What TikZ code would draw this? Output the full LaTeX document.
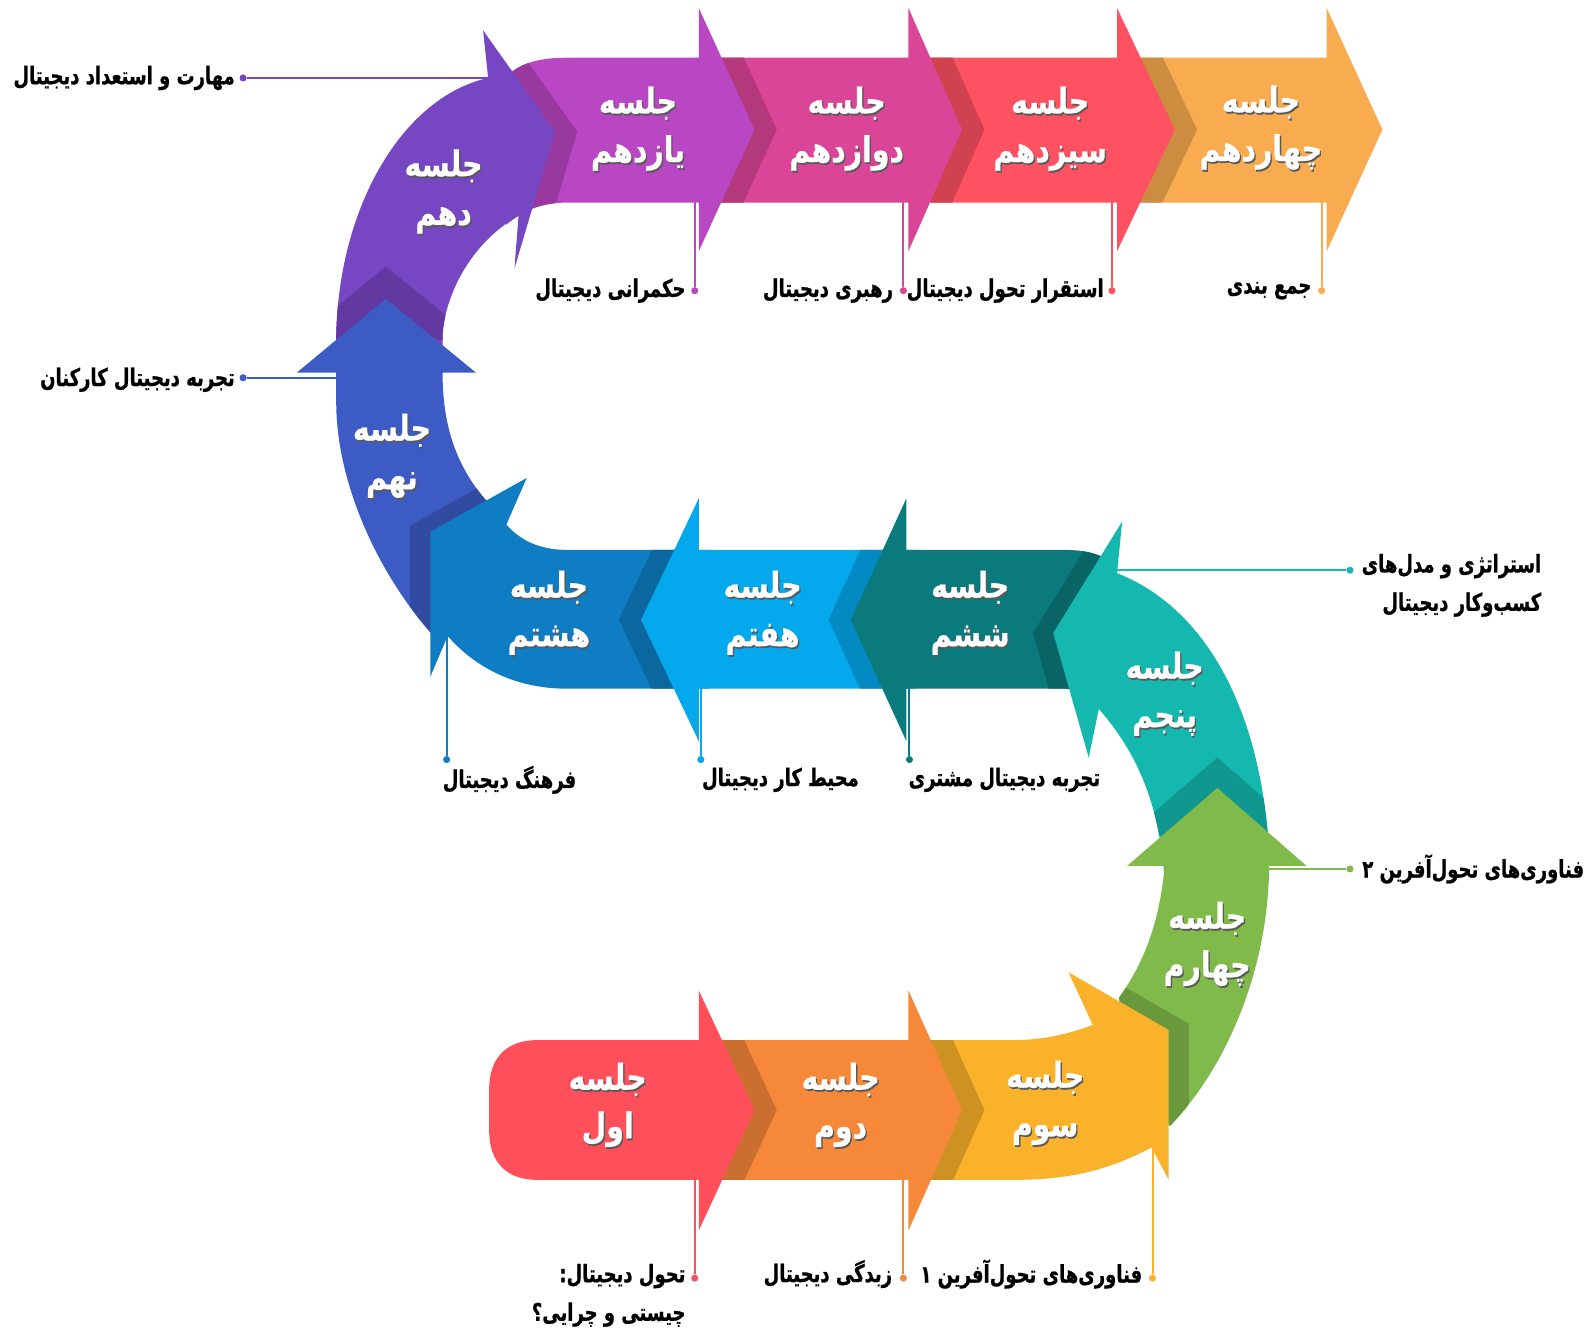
\documentclass[tikz,border=0pt]{standalone}
\usepackage{fontspec}
\newfontfamily\fa[Script=Arabic,FakeStretch=0.74,FakeBold=0.8]{DejaVu Sans}
\newfontfamily\fat[Script=Arabic,FakeStretch=0.8,FakeBold=0.6]{DejaVu Sans}
\TeXXeTstate=1
\definecolor{cA}{HTML}{FF4F5A}
\definecolor{cB}{HTML}{F6883A}
\definecolor{cC}{HTML}{FBB22B}
\definecolor{cD}{HTML}{80BA4A}
\definecolor{cE}{HTML}{14B8AE}
\definecolor{cF}{HTML}{0B7A7C}
\definecolor{cG}{HTML}{03A9EC}
\definecolor{cH}{HTML}{0E7DC3}
\definecolor{cI}{HTML}{3C5BC4}
\definecolor{cJ}{HTML}{7646C3}
\definecolor{cK}{HTML}{B946C3}
\definecolor{cL}{HTML}{DA4597}
\definecolor{cM}{HTML}{FE5162}
\definecolor{cN}{HTML}{F9AC4F}
\tikzset{
  seslbl/.style={font=\fat\bfseries\fontsize{35}{48}\selectfont, text=white, align=center, inner sep=0pt},
  sesshadow/.style={seslbl, text=black!65},
  lbl/.style={font=\fa\bfseries\fontsize{24}{38}\selectfont, text=black, inner sep=0pt},
  leader/.style={line width=2pt},
  dotc/.style={circle, inner sep=0pt, minimum size=7pt},
}
% piece outlines
\def\pN{(1110,57) -- (1310,57) -- (1310,8) -- (1365,128) -- (1310,248) -- (1310,200) -- (1110,200) -- cycle}
\def\pM{(905,57) -- (1103,57) -- (1103,8) -- (1160,128) -- (1103,248) -- (1103,200) -- (905,200) -- cycle}
\def\pL{(700,57) -- (897,57) -- (897,8) -- (950,128) -- (897,248) -- (897,200) -- (700,200) -- cycle}
\def\pK{(496,80) .. controls (510,63) and (530,57) .. (560,57) -- (690,57) -- (690,8) -- (745,128) -- (690,248) -- (690,200) -- (560,200) .. controls (535,200) and (515,208) .. (500,222) -- cycle}
\def\pJ{(332,350) -- (332,330) .. controls (335,200) and (400,95) .. (482,77) -- (477,30) -- (548,130) -- (508,265) -- (512,213) .. controls (465,240) and (440,290) .. (437,330) -- (437,350) -- cycle}
\def\pI{(332,368) -- (293,368) -- (381,295) -- (470,368) -- (437,368) .. controls (437,420) and (450,465) .. (490,505) -- (430,630) .. controls (375,570) and (333,480) .. (332,400) -- cycle}
\def\pH{(700,543) -- (560,543) .. controls (535,543) and (515,535) .. (500,518) -- (520,472) -- (425,525) -- (425,668) -- (442,628) .. controls (470,660) and (510,680) .. (560,680) -- (700,680) -- cycle}
\def\pG{(905,543) -- (690,543) -- (690,492) -- (633,612) -- (690,732) -- (690,680) -- (905,680) -- cycle}
\def\pF{(1095,553) .. controls (1080,545) and (1068,543) .. (1050,543) -- (895,543) -- (895,492) -- (840,612) -- (895,732) -- (895,680) -- (1050,680) .. controls (1070,680) and (1085,688) .. (1095,700) -- cycle}
\def\pE{(1103,566) -- (1108,515) -- (1040,625) -- (1075,748) -- (1085,700) .. controls (1120,740) and (1145,790) .. (1150,870) -- (1253,870) -- (1253,840) .. controls (1245,700) and (1190,600) .. (1103,566) -- cycle}
\def\pD{(1150,855) -- (1113,855) -- (1202,778) -- (1290,855) -- (1253,855) .. controls (1253,950) and (1215,1050) .. (1155,1112) -- (1110,1030) -- (1105,985) .. controls (1130,950) and (1145,910) .. (1150,855) -- cycle}
\def\pC{(905,1027) -- (1000,1027) .. controls (1030,1027) and (1055,1021) .. (1079,1012) -- (1055,960) -- (1154,1017) -- (1154,1165) -- (1137,1133) .. controls (1090,1158) and (1050,1165) .. (1000,1165) -- (905,1165) -- cycle}
\def\pB{(700,1027) -- (897,1027) -- (897,978) -- (950,1096) -- (897,1215) -- (897,1165) -- (700,1165) -- cycle}
\def\pA{(690,1027) -- (530,1027) .. controls (500,1027) and (483,1045) .. (483,1075) -- (483,1117) .. controls (483,1147) and (500,1165) .. (530,1165) -- (690,1165) -- (690,1215) -- (745,1096) -- (690,978) -- cycle}
% head outlines used for the darker shade on the next piece
\def\hM{(1103,8) -- (1160,128) -- (1103,248) -- cycle}
\def\hL{(897,8) -- (950,128) -- (897,248) -- cycle}
\def\hK{(690,8) -- (745,128) -- (690,248) -- cycle}
\def\hJ{(477,30) -- (548,130) -- (508,265) -- (470,200) -- (470,60) -- cycle}
\def\hI{(293,368) -- (381,295) -- (470,368) -- cycle}
\def\hH{(520,472) -- (425,525) -- (425,668) -- (480,668) -- (500,518) -- cycle}
\def\hG{(690,492) -- (633,612) -- (690,732) -- cycle}
\def\hF{(895,492) -- (840,612) -- (895,732) -- cycle}
\def\hE{(1108,515) -- (1040,625) -- (1075,748) -- (1100,640) -- cycle}
\def\hD{(1113,855) -- (1202,778) -- (1290,855) -- cycle}
\def\hC{(1055,960) -- (1154,1017) -- (1154,1165) -- (1080,1100) -- cycle}
\def\hB{(897,978) -- (950,1096) -- (897,1215) -- cycle}
\def\hA{(690,978) -- (745,1096) -- (690,1215) -- cycle}
\newcommand\shadeon[4]{% clip piece, head, shift, colour
  \begin{scope}
    \clip #1;
    \fill[#4!82!black, shift={#3}] #2;
  \end{scope}}
\newcommand\sesstxt[4]{% name, x, y, ordinal
  \node[sesshadow] (#1sh) at ([xshift=1.3pt,yshift=-1.8pt]#2,#3) {\beginR جلسه\endR\\\beginR #4\endR};
  \node[seslbl] (#1) at (#2,#3) {\beginR جلسه\endR\\\beginR #4\endR};}
\begin{document}
\begin{tikzpicture}[x=1pt,y=-1pt]
\fill[white] (0,0) rectangle (1568,1314);
\useasboundingbox (0,0) rectangle (1568,1314);

% ---------- leader lines and dots ----------
% top row
\coordinate (tK) at (686,195); \node[dotc,fill=cK] (dK) at (686,287) {}; \draw[leader,cK] (tK) -- (dK);
\coordinate (tL) at (892,195); \node[dotc,fill=cL] (dL) at (892,287) {}; \draw[leader,cL] (tL) -- (dL);
\coordinate (tM) at (1098,195); \node[dotc,fill=cM] (dM) at (1098,287) {}; \draw[leader,cM] (tM) -- (dM);
\coordinate (tN) at (1305,195); \node[dotc,fill=cN] (dN) at (1305,287) {}; \draw[leader,cN] (tN) -- (dN);
% left side
\coordinate (tJ) at (485,77); \node[dotc,fill=cJ] (dJ) at (240,77) {}; \draw[leader,cJ] (tJ) -- (dJ);
\coordinate (tI) at (335,373); \node[dotc,fill=cI] (dI) at (240,373) {}; \draw[leader,cI] (tI) -- (dI);
% middle row
\coordinate (tH) at (441,625); \node[dotc,fill=cH] (dH) at (441,750) {}; \draw[leader,cH] (tH) -- (dH);
\coordinate (tG) at (692,675); \node[dotc,fill=cG] (dG) at (692,750) {}; \draw[leader,cG] (tG) -- (dG);
\coordinate (tF) at (898,675); \node[dotc,fill=cF] (dF) at (898,750) {}; \draw[leader,cF] (tF) -- (dF);
% right side
\coordinate (tE) at (1100,563); \node[dotc,fill=cE] (dE) at (1333,563) {}; \draw[leader,cE] (tE) -- (dE);
\coordinate (tD) at (1250,858); \node[dotc,fill=cD] (dD) at (1333,858) {}; \draw[leader,cD] (tD) -- (dD);
% bottom row
\coordinate (tA) at (686,1160); \node[dotc,fill=cA] (dA) at (686,1262) {}; \draw[leader,cA] (tA) -- (dA);
\coordinate (tB) at (892,1160); \node[dotc,fill=cB] (dB) at (892,1262) {}; \draw[leader,cB] (tB) -- (dB);
\coordinate (tC) at (1138,1130); \node[dotc,fill=cC] (dC) at (1138,1262) {}; \draw[leader,cC] (tC) -- (dC);

% ---------- arrow pieces, last session first ----------
\fill[cN] \pN;
\shadeon{\pN}{\hM}{(22,0)}{cN}
\fill[cM] \pM;
\shadeon{\pM}{\hL}{(22,0)}{cM}
\fill[cL] \pL;
\shadeon{\pL}{\hK}{(22,0)}{cL}
\fill[cK] \pK;
\shadeon{\pK}{\hJ}{(22,0)}{cK}
\fill[cJ] \pJ;
\shadeon{\pJ}{\hI}{(0,-32)}{cJ}
\fill[cI] \pI;
\shadeon{\pI}{\hH}{(-20,-6)}{cI}
\fill[cH] \pH;
\shadeon{\pH}{\hG}{(-22,0)}{cH}
\fill[cG] \pG;
\shadeon{\pG}{\hF}{(-22,0)}{cG}
\fill[cF] \pF;
\shadeon{\pF}{\hE}{(-20,0)}{cF}
\fill[cE] \pE;
\shadeon{\pE}{\hD}{(0,-30)}{cE}
\fill[cD] \pD;
\shadeon{\pD}{\hC}{(20,-6)}{cD}
\fill[cC] \pC;
\shadeon{\pC}{\hB}{(22,0)}{cC}
\fill[cB] \pB;
\shadeon{\pB}{\hA}{(22,0)}{cB}
\fill[cA] \pA;

% ---------- session titles ----------
\sesstxt{sA}{600}{1091}{اول}
\sesstxt{sB}{830}{1091}{دوم}
\sesstxt{sC}{1032}{1089}{سوم}
\sesstxt{sD}{1192}{932}{چهارم}
\sesstxt{sE}{1150}{685}{پنجم}
\sesstxt{sF}{958}{605}{ششم}
\sesstxt{sG}{753}{605}{هفتم}
\sesstxt{sH}{542}{605}{هشتم}
\sesstxt{sI}{387}{450}{نهم}
\sesstxt{sJ}{438}{189}{دهم}
\sesstxt{sK}{630}{127}{یازدهم}
\sesstxt{sL}{836}{127}{دوازدهم}
\sesstxt{sM}{1037}{127}{سیزدهم}
\sesstxt{sN}{1245}{126}{چهاردهم}

% ---------- topic labels ----------
\node[lbl,anchor=east] (lK) at (677,287) {\beginR حکمرانی دیجیتال\endR};
\node[lbl,anchor=east] (lL) at (882,287) {\beginR رهبری دیجیتال\endR};
\node[lbl,anchor=east] (lM) at (1090,287) {\beginR استقرار تحول دیجیتال\endR};
\node[lbl,anchor=east] (lN) at (1295,287) {\beginR جمع بندی\endR};
\node[lbl,anchor=east] (lJ) at (232,77) {\beginR مهارت و استعداد دیجیتال\endR};
\node[lbl,anchor=east] (lI) at (232,375) {\beginR تجربه دیجیتال کارکنان\endR};
\node[lbl,anchor=west] (lH) at (437,770) {\beginR فرهنگ دیجیتال\endR};
\node[lbl,anchor=west] (lG) at (693,770) {\beginR محیط کار دیجیتال\endR};
\node[lbl,anchor=west] (lF) at (897,770) {\beginR تجربه دیجیتال مشتری\endR};
\node[lbl,anchor=east,align=right] (lE) at (1522,578) {\beginR استراتژی و مدل^^^^200cهای\endR\\\beginR کسب^^^^200cوکار دیجیتال\endR};
\node[lbl,anchor=west] (lD) at (1345,858) {\beginR فناوری^^^^200cهای تحول^^^^200cآفرین ۲\endR};
\node[lbl,anchor=east,align=right] (lA) at (677,1279) {\beginR تحول دیجیتال:\endR\\\beginR چیستی و چرایی؟\endR};
\node[lbl,anchor=east] (lB) at (881,1258) {\beginR زبدگی دیجیتال\endR};
\node[lbl,anchor=east] (lC) at (1128,1258) {\beginR فناوری^^^^200cهای تحول^^^^200cآفرین ۱\endR};
\end{tikzpicture}
\end{document}
